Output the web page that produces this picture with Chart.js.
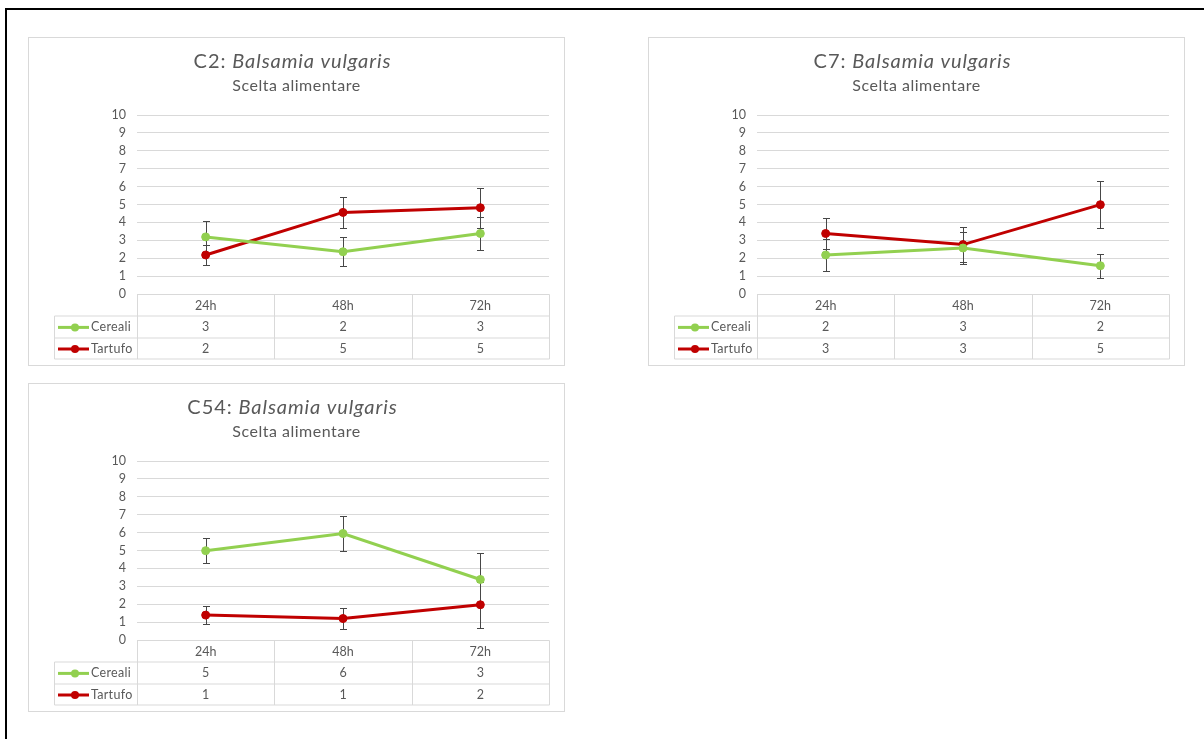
<!DOCTYPE html>
<html lang="it">
<head>
<meta charset="utf-8">
<title>Balsamia vulgaris – Scelta alimentare</title>
<script src="https://cdn.jsdelivr.net/npm/chart.js@4.4.1/dist/chart.umd.min.js"></script>
<style>
  html, body { margin: 0; padding: 0; background: #fff; }
  body { width: 1204px; height: 739px; position: relative; overflow: hidden; font-family: Lato, "Noto Sans", sans-serif; }
  .frame { position: absolute; left: 5px; top: 8px; right: -10px; bottom: -10px; border-top: 2px solid #000; border-left: 2px solid #000; }
  .panel { position: absolute; width: 537px; height: 329px; box-sizing: border-box; border: 1px solid #d9d9d9; background: #fff; }
  .panel canvas { position: absolute; left: -1px; top: -1px; }
</style>
</head>
<body>
<div class="frame"></div>
<div class="panel" style="left:28px; top:37px;"><canvas id="chartC2" width="537" height="329"></canvas></div>
<div class="panel" style="left:648px; top:37px;"><canvas id="chartC7" width="537" height="329"></canvas></div>
<div class="panel" style="left:28px; top:383px;"><canvas id="chartC54" width="537" height="329"></canvas></div>

<script>
// Time points and series
const categories = ['24h', '48h', '72h'];
const seriesNames = ['Cereali', 'Tartufo'];
const seriesColors = ['#92D050', '#C00000'];

// Y axis range
const yMin = 0;
const yMax = 10;
const yStep = 1;

// Titles
const species = 'Balsamia vulgaris';
const subtitle = 'Scelta alimentare';

// C2: mean values and error (±)
const c2Cereali = [3.19, 2.36, 3.38];
const c2CerealiErr = [0.90, 0.82, 0.93];
const c2Tartufo = [2.18, 4.56, 4.82];
const c2TartufoErr = [0.58, 0.88, 1.12];

// C7
const c7Cereali = [2.18, 2.57, 1.58];
const c7CerealiErr = [0.87, 0.90, 0.67];
const c7Tartufo = [3.38, 2.76, 4.99];
const c7TartufoErr = [0.85, 0.98, 1.30];

// C54
const c54Cereali = [4.99, 5.95, 3.38];
const c54CerealiErr = [0.70, 0.95, 1.48];
const c54Tartufo = [1.39, 1.20, 1.97];
const c54TartufoErr = [0.50, 0.57, 1.28];

const FONT = 'Lato, "Noto Sans", sans-serif';
const TEXT = '#595959';
const GRID = '#d9d9d9';
const ERR = '#474747';

Chart.defaults.font.family = FONT;
Chart.defaults.color = TEXT;

// Two-line title: code in roman, species in italic, subtitle below
const panelTitle = {
  id: 'panelTitle',
  afterDraw(chart, args, opts) {
    const ctx = chart.ctx;
    const cx = chart.width / 2;
    ctx.save();
    ctx.fillStyle = TEXT;
    ctx.textBaseline = 'middle';
    ctx.textAlign = 'left';
    ctx.letterSpacing = '0.9px';
    const a = opts.code + ': ';
    const fa = `20px ${FONT}`;
    const fb = `italic 20px ${FONT}`;
    ctx.font = fa; const wa = ctx.measureText(a).width;
    ctx.font = fb; const wb = ctx.measureText(opts.species).width;
    const x0 = cx - 4 - (wa + wb) / 2;
    ctx.font = fa; ctx.fillText(a, x0, 25);
    ctx.font = fb; ctx.fillText(opts.species, x0 + wa, 25);
    ctx.letterSpacing = '0.5px';
    ctx.font = `16px ${FONT}`;
    ctx.textAlign = 'center';
    ctx.fillText(opts.subtitle, cx, 49);
    ctx.restore();
  }
};

// Vertical error bars with short caps
const errorBars = {
  id: 'errorBars',
  beforeDatasetsDraw(chart) {
    const ctx = chart.ctx;
    const ys = chart.scales.y;
    ctx.save();
    ctx.strokeStyle = ERR;
    ctx.lineWidth = 1;
    chart.data.datasets.forEach((ds, i) => {
      const meta = chart.getDatasetMeta(i);
      ds.data.forEach((v, j) => {
        const e = ds.errors[j];
        const x = Math.round(meta.data[j].x) + 0.5;
        const yTop = Math.round(ys.getPixelForValue(v + e)) + 0.5;
        const yBot = Math.round(ys.getPixelForValue(v - e)) + 0.5;
        ctx.beginPath();
        ctx.moveTo(x, yTop); ctx.lineTo(x, yBot);
        ctx.moveTo(x - 3.5, yTop); ctx.lineTo(x + 3.5, yTop);
        ctx.moveTo(x - 3.5, yBot); ctx.lineTo(x + 3.5, yBot);
        ctx.stroke();
      });
    });
    ctx.restore();
  }
};

// Data table under the plot: header row with categories, one row per series
const dataTable = {
  id: 'dataTable',
  afterDraw(chart, args, opts) {
    const ctx = chart.ctx;
    const area = chart.chartArea;
    const xs = chart.scales.x;
    const n = chart.data.labels.length;
    const rowH = opts.rowHeight;
    const top = Math.round(area.bottom) + 0.5;
    const bottom = top + rowH * 3;
    const left = opts.legendLeft + 0.5;
    const right = Math.round(area.right) + 0.5;
    ctx.save();
    ctx.strokeStyle = GRID;
    ctx.lineWidth = 1;
    ctx.beginPath();
    // horizontal rules
    ctx.moveTo(Math.round(area.left) + 0.5, top); ctx.lineTo(right, top);
    for (let r = 1; r <= 3; r++) {
      const y = Math.round(top + rowH * r);
      ctx.moveTo(left, y); ctx.lineTo(right, y);
    }
    // vertical rules at column boundaries
    for (let k = 0; k <= n; k++) {
      const x = Math.round(xs.getPixelForValue(k - 0.5)) + 0.5;
      ctx.moveTo(x, top); ctx.lineTo(x, Math.round(bottom));
    }
    ctx.moveTo(left, Math.round(top + rowH)); ctx.lineTo(left, Math.round(bottom));
    ctx.stroke();

    ctx.fillStyle = TEXT;
    ctx.font = `12.5px ${FONT}`;
    ctx.textBaseline = 'middle';
    ctx.textAlign = 'center';
    chart.data.labels.forEach((lab, j) => {
      ctx.fillText(lab, xs.getPixelForValue(j), top + rowH / 2 + 0.5);
    });
    chart.data.datasets.forEach((ds, i) => {
      const yc = top + rowH * (i + 1.5) + 0.5;
      ctx.textAlign = 'center';
      ctx.fillStyle = TEXT;
      ctx.letterSpacing = '0px';
      ds.data.forEach((v, j) => {
        ctx.fillText(String(Math.round(v)), xs.getPixelForValue(j), yc);
      });
      // legend key
      ctx.strokeStyle = ds.borderColor;
      ctx.lineWidth = 3;
      ctx.beginPath();
      ctx.moveTo(opts.legendLeft + 4, yc); ctx.lineTo(opts.legendLeft + 35, yc);
      ctx.stroke();
      ctx.fillStyle = ds.borderColor;
      ctx.beginPath();
      ctx.arc(opts.legendLeft + 21, yc, 4, 0, Math.PI * 2);
      ctx.fill();
      ctx.fillStyle = TEXT;
      ctx.textAlign = 'left';
      ctx.letterSpacing = '0.3px';
      ctx.fillText(ds.label, opts.legendLeft + 37, yc);
    });
    ctx.restore();
  }
};

function makeChart(canvasId, code, cereali, cerealiErr, tartufo, tartufoErr) {
  const values = [cereali, tartufo];
  const errs = [cerealiErr, tartufoErr];
  return new Chart(document.getElementById(canvasId), {
    type: 'line',
    data: {
      labels: categories,
      datasets: seriesNames.map((name, i) => ({
        label: name,
        data: values[i],
        errors: errs[i],
        borderColor: seriesColors[i],
        backgroundColor: seriesColors[i],
        pointBackgroundColor: seriesColors[i],
        pointBorderColor: seriesColors[i],
        borderWidth: 3,
        pointRadius: 4,
        pointBorderWidth: 1,
        tension: 0,
        fill: false
      }))
    },
    options: {
      responsive: false,
      animation: false,
      events: [],
      layout: { padding: { top: 78, bottom: 72, left: 0, right: 16 } },
      scales: {
        x: { type: 'category', display: false, offset: true },
        y: {
          min: yMin, max: yMax,
          afterFit(scale) { scale.width = 109; },
          ticks: { stepSize: yStep, autoSkip: false, padding: 11, color: TEXT, font: { size: 12.5 } },
          grid: { color: GRID, drawTicks: false, lineWidth: 1 },
          border: { display: false }
        }
      },
      plugins: {
        legend: { display: false },
        title: { display: false },
        tooltip: { enabled: false },
        panelTitle: { code: code, species: species, subtitle: subtitle },
        dataTable: { rowHeight: 21.6, legendLeft: 26 }
      }
    },
    plugins: [errorBars, dataTable, panelTitle]
  });
}

makeChart('chartC2', 'C2', c2Cereali, c2CerealiErr, c2Tartufo, c2TartufoErr);
makeChart('chartC7', 'C7', c7Cereali, c7CerealiErr, c7Tartufo, c7TartufoErr);
makeChart('chartC54', 'C54', c54Cereali, c54CerealiErr, c54Tartufo, c54TartufoErr);
</script>
</body>
</html>
